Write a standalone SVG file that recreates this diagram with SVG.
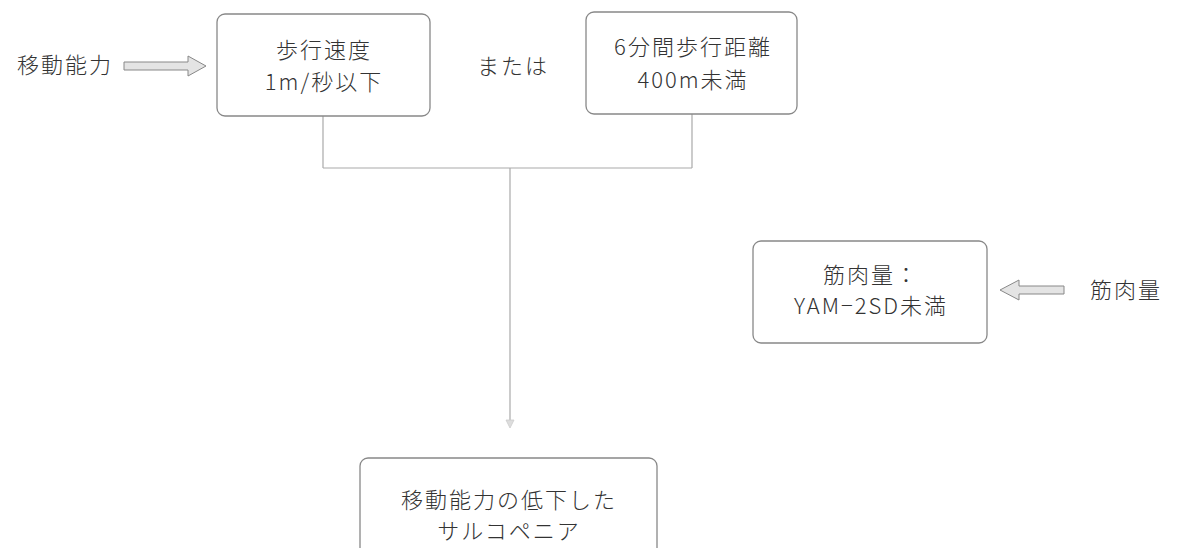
<svg xmlns="http://www.w3.org/2000/svg" width="1180" height="548" viewBox="0 0 1180 548">
<style>
.box{fill:#fff;stroke:#888;stroke-width:1.3}
.t{font-family:"Noto Sans CJK JP","Noto Sans",sans-serif;font-size:22px;letter-spacing:2px;font-weight:300;fill:#333;text-anchor:middle}
.c{fill:none;stroke:#aaa;stroke-width:1.2}
.ar{fill:#e4e4e4;stroke:#888;stroke-width:1}
</style>
<rect width="1180" height="548" fill="#fff"/>
<g id="connectors">
<path class="c" d="M323 116 V168 M692 114 V168 M323 168 H692 M510 168 V425"/>
<path d="M510 428 l-4 -8 h8 z" fill="#ddd" stroke="#ccc" stroke-width="0.8"/>
<path id="arrow-left" class="ar" d="M124 62 H188 V56 L206 66 L188 76 V70 H124 Z"/>
<path id="arrow-right" class="ar" d="M1064 286 H1019 V280 L1000 290 L1019 300 V294 H1064 Z"/>
</g>
<g id="label-ido">
<text class="t" x="65" y="73">移動能力</text>
</g>
<g id="node-walk-speed">
<rect class="box" x="217" y="14" width="213" height="102" rx="8"/>
<text class="t" x="324" y="58">歩行速度</text>
<text class="t" x="324" y="90">1m/秒以下</text>
</g>
<g id="label-or">
<text class="t" x="513" y="74">または</text>
</g>
<g id="node-6min">
<rect class="box" x="586" y="12" width="211" height="102" rx="8"/>
<text class="t" x="693" y="55">6分間歩行距離</text>
<text class="t" x="693" y="88">400m未満</text>
</g>
<g id="node-muscle">
<rect class="box" x="753" y="241" width="234" height="102" rx="8"/>
<text class="t" x="871" y="283">筋肉量：</text>
<text class="t" x="871" y="314">YAM−2SD未満</text>
</g>
<g id="label-muscle">
<text class="t" x="1126" y="298">筋肉量</text>
</g>
<g id="node-sarcopenia">
<rect class="box" x="360" y="458" width="297" height="110" rx="8"/>
<text class="t" x="509" y="508">移動能力の低下した</text>
<text class="t" x="509" y="539">サルコペニア</text>
</g>
</svg>
